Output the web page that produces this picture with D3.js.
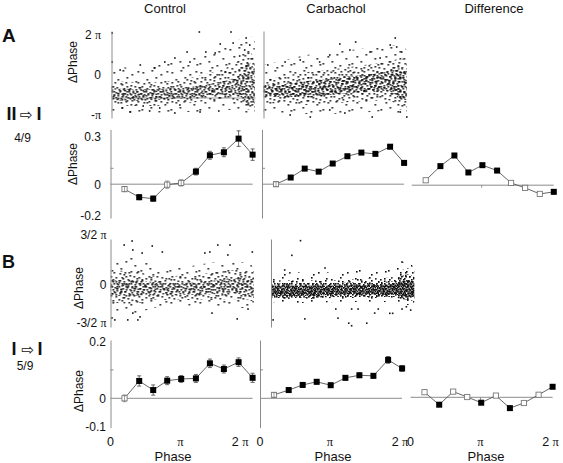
<!DOCTYPE html>
<html><head><meta charset="utf-8">
<script src="https://cdn.jsdelivr.net/npm/d3@7/dist/d3.min.js"></script>
<style>
body{margin:0;background:#fff;}
text{font-family:"Liberation Sans",Arial,sans-serif;fill:#111;}
</style></head>
<body><svg id="chart" width="563" height="463"></svg>
<script>
// ================= DATA =================
const columns = ["Control", "Carbachol", "Difference"];
const panelLetters = ["A", "B"];
const rowCounts = ["4/9", "5/9"];
const axisTitle = "ΔPhase";
const xTitle = "Phase";

// phase bins of the averaged curves (units of π)
const phaseBins = [0.20, 0.41, 0.61, 0.81, 1.01, 1.22, 1.42, 1.62, 1.83, 2.03];

// Row A (II -> I) mean ΔPhase per bin
const aControl    = [-0.031, -0.082, -0.091, -0.003, 0.008, 0.079, 0.182, 0.201, 0.287, 0.186];
const aControlErr = [0.016, 0.016, 0.016, 0.023, 0.020, 0.021, 0.025, 0.028, 0.049, 0.036];
const aControlSig = [0, 1, 1, 0, 0, 1, 1, 1, 1, 1];
const aCarb       = [0.000, 0.042, 0.098, 0.079, 0.130, 0.176, 0.199, 0.191, 0.236, 0.134];
const aCarbErr    = [0.015, 0.010, 0.010, 0.010, 0.010, 0.010, 0.010, 0.010, 0.012, 0.012];
const aCarbSig    = [0, 1, 1, 1, 1, 1, 1, 1, 1, 1];
const aDiff       = [0.031, 0.120, 0.187, 0.080, 0.126, 0.092, 0.014, -0.017, -0.055, -0.042];
const aDiffSig    = [0, 1, 1, 1, 1, 1, 0, 0, 0, 1];

// Row B (I -> I)
const bControl    = [0.000, 0.061, 0.029, 0.062, 0.068, 0.070, 0.123, 0.103, 0.127, 0.072];
const bControlErr = [0.012, 0.018, 0.018, 0.014, 0.012, 0.014, 0.015, 0.014, 0.015, 0.016];
const bControlSig = [0, 1, 1, 1, 1, 1, 1, 1, 1, 1];
const bCarb       = [0.012, 0.029, 0.047, 0.058, 0.046, 0.072, 0.081, 0.079, 0.135, 0.105];
const bCarbErr    = [0.008, 0.008, 0.008, 0.008, 0.008, 0.008, 0.008, 0.008, 0.012, 0.010];
const bCarbSig    = [0, 1, 1, 1, 1, 1, 1, 1, 1, 1];
const bDiff       = [0.018, -0.026, 0.020, 0.001, -0.019, 0.006, -0.038, -0.020, 0.009, 0.037];
const bDiffSig    = [0, 1, 0, 0, 1, 0, 1, 0, 0, 1];

// tick values / labels
const scatterTicksA = [2, 0, -1];       const scatterTickLabelsA = ["2 π", "0", "-π"];
const scatterTicksB = [1.5, 0, -1.5];   const scatterTickLabelsB = ["3/2 π", "0", "-3/2 π"];
const lineTicksA = [0.3, 0, -0.2];      const lineTickLabelsA = ["0.3", "0", "-0.2"];
const lineTicksB = [0.2, 0, -0.1];      const lineTickLabelsB = ["0.2", "0", "-0.1"];
const phaseTicks = [0, 1, 2];           const phaseTickLabels = ["0", "π", "2 π"];

// Raw scatter clouds: density envelopes (phase in units of π, ΔPhase in units of π)
const envPhase = [0, 0.3, 0.6, 0.9, 1.2, 1.5, 1.7, 1.82, 1.9, 1.99];
const aCtlOuterHi = [0.5, 0.35, 0.5, 0.65, 1.0, 1.35, 1.65, 1.85, 2.0, 1.75];
const aCtlOuterLo = [-0.925, -0.95, -0.95, -0.925, -0.925, -0.875, -0.875, -0.925, -0.95, -0.95];
const aCtlMidHi   = [-0.125, -0.175, -0.175, -0.125, -0.025, 0.25, 0.55, 0.85, 1.25, 0.75];
const aCtlMidLo   = [-0.75, -0.775, -0.775, -0.725, -0.675, -0.625, -0.625, -0.725, -0.875, -0.875];
const aCtlCoreHi  = [-0.325, -0.35, -0.35, -0.325, -0.275, -0.175, -0.075, 0.15, 0.65, 0.25];
const aCtlCoreLo  = [-0.625, -0.65, -0.625, -0.6, -0.55, -0.5, -0.5, -0.575, -0.775, -0.725];
const aCtlPoints = [[0.01,2.1],[1.22,2.15],[1.66,2.15],[1.87,1.85],[1.51,1.55],[1.05,1.15],[1.31,1.15],[1.44,1.1],
  [1.69,1.6],[0.01,0.65],[0.12,0.25],[0.40,0.5],[0.74,0.65],[1.85,1.25],[1.92,1.5],[1.78,0.95],[0.26,-0.925],
  [0.53,-0.9],[0.67,-0.825],[0.88,-0.95],[1.23,-0.925],[1.49,-0.9],[0.95,-0.75],[0.15,-0.825],[0.44,-0.775],
  [1.09,0.65],[0.88,0.85],[0.60,0.35]];
const aCtlMean = -0.575;

const aCarbOuterHi = [0.5, 0.75, 1.0, 1.15, 1.25, 1.35, 1.35, 1.5, 1.5, 1.25];
const aCarbOuterLo = [-0.925, -0.95, -0.975, -0.975, -0.95, -0.925, -0.9, -0.95, -1.0, -1.0];
const aCarbMidHi   = [-0.125, -0.025, 0.15, 0.25, 0.4, 0.55, 0.65, 0.75, 0.85, 0.65];
const aCarbMidLo   = [-0.7, -0.725, -0.75, -0.725, -0.675, -0.65, -0.625, -0.7, -0.875, -0.875];
const aCarbCoreHi  = [-0.25, -0.2, -0.15, -0.1, -0.025, 0.05, 0.15, 0.25, 0.35, 0.15];
const aCarbCoreLo  = [-0.525, -0.55, -0.55, -0.5, -0.45, -0.425, -0.4, -0.475, -0.625, -0.625];
const aCarbPoints = [[1.28,1.65],[1.06,1.55],[1.83,1.85],[1.85,1.4],[1.51,-1.05],[0.65,-1.05],[1.99,-1.05],
  [0.37,-1.0],[0.92,1.0],[1.20,1.25],[1.48,1.15],[1.62,0.85],[0.51,0.75],[0.30,0.65],[0.78,0.65],[0.06,0.5],
  [1.76,1.5],[1.92,1.15],[1.90,-0.925],[1.13,-0.95],[0.92,-0.875]];

const bCtlOuterHi = [0.69, 0.81, 0.6, 0.51, 0.6, 0.69, 0.69, 0.69, 0.69, 0.51];
const bCtlOuterLo = [-1.07, -1.14, -0.91, -0.79, -0.83, -0.83, -0.83, -0.91, -0.91, -0.99];
const bCtlMidHi   = [0.39, 0.45, 0.27, 0.27, 0.33, 0.39, 0.45, 0.45, 0.45, 0.39];
const bCtlMidLo   = [-0.67, -0.75, -0.59, -0.59, -0.59, -0.59, -0.55, -0.59, -0.59, -0.67];
const bCtlCoreHi  = [0.15, 0.15, 0.09, 0.06, 0.09, 0.15, 0.21, 0.21, 0.24, 0.21];
const bCtlCoreLo  = [-0.43, -0.43, -0.39, -0.39, -0.39, -0.36, -0.32, -0.39, -0.43, -0.51];
const bCtlPoints = [[0.19,1.2],[0.30,1.32],[0.31,1.05],[0.44,0.96],[0.58,1.17],[0.72,0.99],[1.31,0.96],[1.38,0.99],
  [1.49,1.2],[1.66,1.2],[1.63,0.9],[1.97,0.99],[0.02,-1.30],[0.06,-1.38],[0.24,-1.38],[0.38,-1.38],[0.41,-1.26],
  [0.31,-1.11],[1.76,-1.34],[1.41,-1.11],[1.91,-0.95]];

const bCarbOuterHi = [0.30, 0.39, 0.39, 0.39, 0.45, 0.45, 0.51, 0.69, 0.69, 0.51];
const bCarbOuterLo = [-0.67, -0.71, -0.71, -0.67, -0.67, -0.67, -0.67, -0.71, -0.79, -0.75];
const bCarbMidHi   = [0.12, 0.15, 0.15, 0.15, 0.18, 0.21, 0.24, 0.45, 0.51, 0.39];
const bCarbMidLo   = [-0.51, -0.55, -0.55, -0.51, -0.51, -0.51, -0.51, -0.55, -0.63, -0.59];
const bCarbCoreHi  = [0.06, 0.06, 0.06, 0.06, 0.09, 0.09, 0.12, 0.27, 0.33, 0.24];
const bCarbCoreLo  = [-0.51, -0.51, -0.51, -0.47, -0.47, -0.47, -0.47, -0.51, -0.59, -0.55];
const bCarbSolidHi = [-0.02, -0.02, -0.02, -0.02, 0.0, 0.0, 0.03, 0.12, 0.15, 0.06];
const bCarbSolidLo = [-0.43, -0.43, -0.43, -0.39, -0.39, -0.39, -0.39, -0.43, -0.47, -0.47];
const bCarbPoints = [[0.41,1.33],[0.29,0.89],[0.19,0.45],[0.75,0.51],[0.03,-1.38],[0.47,-1.34],[0.93,-1.31],
  [1.08,-1.51],[1.12,-1.61],[1.33,-1.51],[1.82,0.69],[1.44,-1.11],[1.49,-0.95],[1.65,-1.12],[1.69,-1.12],
  [1.82,-0.95],[1.88,-0.86],[1.94,-0.99],[0.90,-0.95],[1.12,-0.95],[1.21,-0.95]];

// ================= DRAWING =================
const svg = d3.select("#chart");
const FONT = "'Liberation Sans', Arial, sans-serif";
const SERIF = "'Liberation Serif','Times New Roman',serif";
const AX = "#8c8c8c";

// irregular dot textures for the dense scatter clouds
const defs = svg.append("defs");
function addPattern(id, w, h, pts, s) {
  const p = defs.append("pattern").attr("id", id).attr("patternUnits", "userSpaceOnUse")
    .attr("width", w).attr("height", h);
  pts.forEach(([x, y]) => p.append("rect").attr("x", x).attr("y", y)
    .attr("width", s).attr("height", s).attr("fill", "#111"));
}
addPattern("pSparse", 29, 23, [[2,3],[11,1],[20,5],[26,2],[6,10],[15,8],[24,12],[1,17],[10,15],[18,19],[27,18],[13,21]], 1.6);
addPattern("pMed", 23, 19, [[1,1],[6,3],[11,0],[16,2],[20,5],[3,6],[9,7],[14,6],[19,9],[0,10],[5,11],[12,12],
  [17,13],[21,14.5],[2,15],[8,14],[13,17],[18,17],[6,17],[10,4],[15,10],[21,1]], 1.6);
addPattern("pDense", 17, 13, [[0,0],[4,1],[8,0],[12,2],[15,0],[2,3],[6,4],[10,5],[14,5],[1,7],[5,8],[9,7],[13,8],
  [15.3,10],[3,10],[7,11],[11,10],[0,11.3],[4,6],[8,9],[12,11.3],[15.3,3],[6,1.8],[10,2.5]], 1.6);
addPattern("pSolid", 9, 7, [[0,0],[2.3,0.6],[4.6,0],[6.9,0.8],[1.1,2],[3.4,2.3],[5.7,1.9],[7.4,2.8],[0,3.6],
  [2.2,4.1],[4.5,3.7],[6.5,4.5],[1.2,5.4],[3.5,5.4],[5.6,5.6],[7.4,5.4]], 1.6);

// scales
const xScatter = d3.scaleLinear().domain([0, 2]).range([0, 144]);
const xLine = d3.scaleLinear().domain([0, 2]).range([0, 140]);
const yScatterA = d3.scaleLinear().domain([-1.075, 0, 2.2]).range([118, 75, 31]);
const yScatterB = d3.scaleLinear().domain([-1.66, 0, 1.38]).range([327, 285, 239]);
const yLineA = d3.scaleLinear().domain([-0.213, 0.345]).range([218, 129.4]);
const yLineB = d3.scaleLinear().domain([-0.103, 0.205]).range([427.6, 340]);

function piText(sel, str) {
  sel.text(null);
  const parts = str.split("π");
  parts.forEach((p, i) => {
    if (p) sel.append("tspan").text(p);
    if (i < parts.length - 1) sel.append("tspan").attr("font-family", SERIF).text("π");
  });
}

function yAxis(g, scale, ticks, labels, pad, showLabels) {
  const ax = d3.axisLeft(scale).tickValues(ticks).tickSize(0).tickSizeOuter(0).tickPadding(pad);
  const a = g.append("g").call(ax).attr("font-family", FONT).attr("font-size", 12);
  a.select(".domain").attr("stroke", AX);
  if (!showLabels) { a.selectAll(".tick").remove(); return; }
  a.selectAll(".tick text").attr("fill", "#111").each(function (d, i) { piText(d3.select(this), labels[i]); });
}

function scatterPanel(ox, yS, layers, points, ticks, labels, pad, showLabels, meanVal) {
  const g = svg.append("g").attr("transform", `translate(${ox},0)`);
  if (meanVal !== undefined) {
    g.append("line").attr("x1", xScatter(0)).attr("x2", xScatter(2)).attr("y1", yS(meanVal)).attr("y2", yS(meanVal))
      .attr("stroke", "#999").attr("stroke-width", 1);
  }
  layers.forEach(([lo, hi, fill]) => {
    const area = d3.area().curve(d3.curveMonotoneX)
      .x((d, i) => xScatter(envPhase[i])).y0((d, i) => yS(lo[i])).y1((d, i) => yS(hi[i]));
    g.append("path").datum(envPhase).attr("d", area).attr("fill", fill);
  });
  g.selectAll("rect.pt").data(points).join("rect").attr("class", "pt")
    .attr("x", d => xScatter(d[0]) - 0.8).attr("y", d => yS(d[1]) - 0.8)
    .attr("width", 1.6).attr("height", 1.6).attr("fill", "#111");
  yAxis(g, yS, ticks, labels, pad, showLabels);
}

function linePanel(ox, yS, vals, errs, sig, opt) {
  const g = svg.append("g").attr("transform", `translate(${ox},0)`);
  const y0 = yS(0) + (opt.zeroShift || 0);
  g.append("line").attr("x1", xLine(0)).attr("x2", xLine(phaseBins[phaseBins.length - 1]))
    .attr("y1", y0).attr("y2", y0).attr("stroke", AX).attr("stroke-width", 1);
  if (opt.axis) {
    yAxis(g, yS, opt.ticks, opt.labels, opt.pad, opt.showLabels);
    g.append("line").attr("x1", 0).attr("x2", 3).attr("y1", yS(0.1)).attr("y2", yS(0.1)).attr("stroke", AX);
  } else {
    g.append("line").attr("x1", xLine(1)).attr("x2", xLine(1)).attr("y1", y0).attr("y2", y0 + 2.5).attr("stroke", AX);
  }
  const pts = phaseBins.map((p, i) => ({ x: xLine(p), y: yS(vals[i]) + (opt.zeroShift || 0), v: vals[i], e: errs ? errs[i] : 0, s: sig[i] }));
  g.append("path").datum(pts).attr("d", d3.line().x(d => d.x).y(d => d.y))
    .attr("fill", "none").attr("stroke", "#555").attr("stroke-width", 0.9);
  function bars(d, col, w) {
    const t = yS(d.v + d.e), b = yS(d.v - d.e);
    g.append("line").attr("x1", d.x).attr("x2", d.x).attr("y1", t).attr("y2", b).attr("stroke", col).attr("stroke-width", w);
    g.append("line").attr("x1", d.x - 2).attr("x2", d.x + 2).attr("y1", t).attr("y2", t).attr("stroke", col).attr("stroke-width", w);
    g.append("line").attr("x1", d.x - 2).attr("x2", d.x + 2).attr("y1", b).attr("y2", b).attr("stroke", col).attr("stroke-width", w);
  }
  if (errs) pts.forEach(d => { if (d.s) bars(d, "#444", 0.8); });
  g.selectAll("rect.m").data(pts).join("rect").attr("class", "m")
    .attr("x", d => d.s ? d.x - 3 : d.x - 2.6).attr("y", d => d.s ? d.y - 3 : d.y - 2.6)
    .attr("width", d => d.s ? 6 : 5.2).attr("height", d => d.s ? 6 : 5.2)
    .attr("fill", d => d.s ? "#000" : "#fff").attr("stroke", d => d.s ? "none" : "#777").attr("stroke-width", 0.9);
  if (errs) pts.forEach(d => { if (!d.s) bars(d, "#777", 0.7); });
  if (opt.xLabels) {
    phaseTicks.forEach((t, i) => {
      const last = i === phaseTicks.length - 1 && opt.endAnchorLast;
      const tx = g.append("text").attr("x", xLine(t) - (last ? 2 : 0)).attr("y", 446)
        .attr("text-anchor", last ? "end" : "middle").attr("font-size", 12.5);
      piText(tx, phaseTickLabels[i]);
    });
    g.append("text").attr("x", opt.titleX - ox).attr("y", 461).attr("text-anchor", "middle")
      .attr("font-size", 13).text(xTitle);
  }
}

// column titles
const titleX = [165, 336, 494];
columns.forEach((c, i) => svg.append("text").attr("x", titleX[i]).attr("y", 13)
  .attr("text-anchor", "middle").attr("font-size", 13).text(c));

// panel letters
svg.append("text").attr("x", 2).attr("y", 42).attr("font-size", 19).attr("font-weight", "bold").text(panelLetters[0]);
svg.append("text").attr("x", 2).attr("y", 268).attr("font-size", 18).attr("font-weight", "bold").text(panelLetters[1]);

// row transition labels
function rowLabel(y, bars, xs) {
  const t = svg.append("text").attr("y", y).attr("font-size", 18).attr("font-weight", "bold");
  t.append("tspan").attr("x", xs[0]).text(bars);
  t.append("tspan").attr("x", xs[1]).attr("font-family", "'DejaVu Sans'").attr("font-weight", "normal")
    .attr("font-size", 15).text("⇨");
  t.append("tspan").attr("x", xs[2]).text("I");
}
rowLabel(120, "II", [6.5, 20, 36.5]);
rowLabel(355, "I", [11.5, 21.5, 37.5]);
svg.append("text").attr("x", 22.5).attr("y", 142).attr("text-anchor", "middle").attr("font-size", 12).text(rowCounts[0]);
svg.append("text").attr("x", 25).attr("y", 370).attr("text-anchor", "middle").attr("font-size", 12).text(rowCounts[1]);

// y titles
function yTitle(cx, cy) {
  svg.append("text").attr("transform", `translate(${cx + 4.3},${cy}) rotate(-90)`)
    .attr("text-anchor", "middle").attr("font-size", 12).text(axisTitle);
}
yTitle(72.5, 62); yTitle(72.5, 164); yTitle(79, 288); yTitle(79, 391);

// ---- Row A scatter
scatterPanel(111.5, yScatterA, [
  [aCtlOuterLo, aCtlOuterHi, "url(#pSparse)"], [aCtlMidLo, aCtlMidHi, "url(#pMed)"], [aCtlCoreLo, aCtlCoreHi, "url(#pDense)"]
], aCtlPoints, scatterTicksA, scatterTickLabelsA, 10.5, true, aCtlMean);
scatterPanel(263.5, yScatterA, [
  [aCarbOuterLo, aCarbOuterHi, "url(#pSparse)"], [aCarbMidLo, aCarbMidHi, "url(#pMed)"], [aCarbCoreLo, aCarbCoreHi, "url(#pDense)"],
  [aCarbCoreLo, aCarbCoreHi, "url(#pMed)"]
], aCarbPoints, scatterTicksA, scatterTickLabelsA, 10.5, false);

// ---- Row A curves
linePanel(110.5, yLineA, aControl, aControlErr, aControlSig, { axis: true, ticks: lineTicksA, labels: lineTickLabelsA, pad: 9.5, showLabels: true });
linePanel(262, yLineA, aCarb, aCarbErr, aCarbSig, { axis: true, ticks: lineTicksA, labels: lineTickLabelsA, pad: 9.5, showLabels: false });
linePanel(411.7, yLineA, aDiff, null, aDiffSig, { axis: false, zeroShift: 1 });

// ---- Row B scatter
scatterPanel(110.5, yScatterB, [
  [bCtlOuterLo, bCtlOuterHi, "url(#pSparse)"], [bCtlMidLo, bCtlMidHi, "url(#pMed)"], [bCtlCoreLo, bCtlCoreHi, "url(#pDense)"]
], bCtlPoints, scatterTicksB, scatterTickLabelsB, 4, true);
scatterPanel(271, yScatterB, [
  [bCarbOuterLo, bCarbOuterHi, "url(#pSparse)"], [bCarbMidLo, bCarbMidHi, "url(#pMed)"], [bCarbCoreLo, bCarbCoreHi, "url(#pDense)"],
  [bCarbSolidLo, bCarbSolidHi, "url(#pSolid)"]
], bCarbPoints, scatterTicksB, scatterTickLabelsB, 4, false);

// ---- Row B curves
linePanel(110.5, yLineB, bControl, bControlErr, bControlSig, { axis: true, ticks: lineTicksB, labels: lineTickLabelsB, pad: 4.5, showLabels: true, xLabels: true, titleX: 173, endAnchorLast: true });
linePanel(260, yLineB, bCarb, bCarbErr, bCarbSig, { axis: true, ticks: lineTicksB, labels: lineTickLabelsB, pad: 4.5, showLabels: false, xLabels: true, titleX: 333 });
linePanel(410.5, yLineB, bDiff, null, bDiffSig, { axis: false, zeroShift: -1, xLabels: true, titleX: 486 });
</script>
</body></html>
